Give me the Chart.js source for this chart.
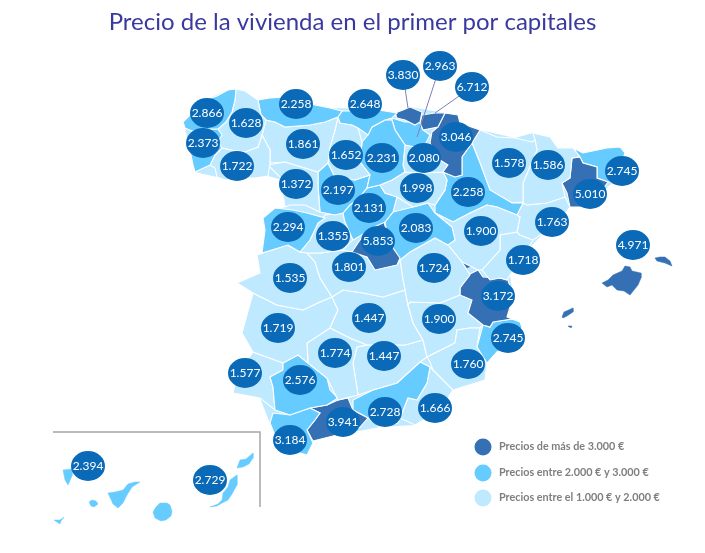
<!DOCTYPE html>
<html lang="es">
<head>
<meta charset="utf-8">
<title>Precio de la vivienda</title>
<script src="https://cdn.jsdelivr.net/npm/chart.js@4"></script>
<style>
  html, body { margin: 0; background: #fff; }
  canvas { display: block; }
</style>
</head>
<body>
<canvas id="mapa" width="705" height="553"></canvas>
<script>
// Precio por capital, en euros
const capitales = ['A Coruña','Lugo','Pontevedra','Ourense','Asturias','Cantabria','León','Palencia','Burgos','Bizkaia','Álava','Gipuzkoa','Navarra','La Rioja','Soria','Zamora','Valladolid','Segovia','Salamanca','Ávila','Madrid','Guadalajara','Toledo','Cuenca','Teruel','Zaragoza','Huesca','Lleida','Barcelona','Girona','Tarragona','Castellón','Valencia','Alicante','Murcia','Albacete','Ciudad Real','Cáceres','Badajoz','Córdoba','Jaén','Sevilla','Huelva','Cádiz','Málaga','Granada','Almería','Baleares','Tenerife','Las Palmas'];
const precios = [2866,1628,2373,1722,2258,2648,1861,1652,2231,3830,2963,6712,3046,2080,1998,1372,2197,2131,2294,1355,5853,2083,1801,1724,1900,2258,1578,1586,5010,2745,1763,1718,3172,2745,1760,1900,1447,1535,1719,1774,1447,2576,1577,3184,3941,2728,1666,4971,2394,2729];
// Posición de cada burbuja sobre el mapa
const mapaX = [207,246,203,237,296,365,303,346,382,403,440,472,456,424,417,296,338,369,288,333,378,416,349,434,481,468,509,548,590,622,552,523,498,508,468,439,369,290,278,335,384,300,245,290,343,385,435,633,88,210];
const mapaY = [113,123,143,166,104,104,144,155,158,75,66,87,137,158,188,184,190,208,227,236,241,228,267,268,231,192,163,165,194,171,222,260,296,338,364,319,318,278,328,353,356,380,373,440,422,412,408,245,466,480];

// Tramos de la leyenda
const tramos = ['Precios de más de 3.000 €','Precios entre 2.000 € y 3.000 €','Precios entre el 1.000 € y 2.000 €'];
const coloresTramo = ['#3670b4','#66ccff','#bfe9ff'];
const leyendaY = [447,473,498];

// Qué tramo pinta cada contorno
const tramoAlto = ['Bizkaia','Gipuzkoa','Navarra','Madrid','Barcelona','Valencia','Ademuz','Málaga','Mallorca','Menorca','Ibiza','Formentera'];
const tramoMedio = ['A Coruña','Pontevedra','Asturias','Cantabria','Burgos','Álava','Valladolid','Segovia','Salamanca','Guadalajara','Zaragoza','Girona','Alicante','Sevilla','Cádiz','Granada','Hierro','Gomera','La Palma','Tenerife','Gran Canaria','Fuerteventura','Lanzarote'];

// Contornos de las provincias e islas, en coordenadas del mapa
const contornos = {
  'A Coruña': [[183,122],[190,115],[205,100],[217,96],[228,90],[236,89],[235,100],[232,112],[226,122],[218,129],[205,129],[192,131],[185,128]],
  'Lugo': [[236,89],[245,91],[258,100],[261,115],[266,120],[262,135],[258,147],[245,152],[232,150],[222,148],[218,142],[222,135],[218,129],[226,122],[232,112],[235,100]],
  'Pontevedra': [[192,131],[205,129],[218,129],[228,134],[228,141],[222,148],[215,155],[210,165],[195,172],[193,165],[190,150]],
  'Ourense': [[222,148],[232,150],[245,152],[258,147],[262,135],[270,150],[270,163],[268,176],[255,178],[240,178],[225,180],[217,177],[215,168],[210,165],[215,155]],
  'Asturias': [[258,100],[270,98],[285,97],[300,100],[315,105],[330,108],[342,111],[338,117],[325,122],[310,125],[298,126],[285,127],[275,122],[266,120],[261,115]],
  'Cantabria': [[342,111],[355,111],[370,109],[385,111],[397,113],[392,118],[385,120],[372,127],[368,135],[358,128],[352,125],[340,123],[338,117]],
  'León': [[266,120],[275,122],[285,127],[298,126],[310,125],[325,122],[338,117],[335,130],[330,147],[328,163],[318,172],[305,168],[285,162],[270,163],[270,150],[262,135]],
  'Palencia': [[338,117],[340,123],[352,125],[358,128],[362,142],[360,162],[370,175],[355,180],[335,177],[328,163],[330,147],[335,130]],
  'Burgos': [[368,135],[372,127],[385,120],[392,120],[395,130],[405,145],[403,165],[405,172],[392,180],[380,185],[367,188],[370,175],[360,162],[362,142]],
  'Bizkaia': [[395,113],[403,110],[410,107],[422,112],[420,122],[415,125],[405,120],[397,118]],
  'Gipuzkoa': [[422,115],[435,113],[445,113],[438,127],[423,130],[420,123]],
  'Álava': [[392,118],[405,122],[420,122],[423,130],[430,135],[425,145],[415,147],[405,145],[395,130],[392,120]],
  'Navarra': [[445,113],[458,115],[460,123],[480,130],[472,143],[462,157],[462,175],[455,177],[443,172],[448,165],[440,160],[430,143],[432,132],[438,127]],
  'La Rioja': [[405,145],[415,147],[425,145],[430,143],[440,160],[448,165],[443,172],[423,173],[405,172],[403,165]],
  'Soria': [[405,172],[423,173],[443,172],[447,180],[445,190],[435,205],[428,203],[413,207],[397,197],[385,193],[380,185],[392,180]],
  'Zamora': [[268,165],[285,162],[305,168],[318,172],[318,185],[319,200],[320,212],[305,205],[290,205],[285,207],[283,195],[283,180]],
  'Valladolid': [[318,172],[328,163],[335,177],[355,180],[370,175],[367,188],[357,200],[350,205],[343,213],[335,215],[320,212],[319,200],[318,185]],
  'Segovia': [[367,188],[380,185],[385,193],[397,197],[393,212],[385,222],[372,228],[360,236],[353,240],[345,222],[343,213],[350,205],[357,200]],
  'Salamanca': [[263,218],[275,208],[293,210],[307,213],[325,218],[318,223],[310,240],[300,252],[288,245],[262,253],[265,230]],
  'Ávila': [[325,215],[343,213],[345,222],[353,240],[343,250],[320,253],[307,253],[300,252],[310,240],[318,223]],
  'Madrid': [[383,218],[387,233],[393,248],[400,258],[397,265],[375,270],[367,257],[352,252],[360,240],[367,233],[370,227]],
  'Guadalajara': [[385,222],[393,212],[413,207],[428,203],[435,213],[452,227],[455,240],[448,245],[435,238],[410,252],[400,260],[393,248],[387,233]],
  'Toledo': [[307,253],[320,253],[343,250],[352,252],[367,257],[375,270],[397,265],[400,260],[403,280],[405,290],[383,297],[363,293],[343,290],[332,297],[320,278],[315,262]],
  'Cuenca': [[400,260],[410,252],[435,238],[448,245],[462,262],[470,275],[460,288],[460,295],[440,303],[410,302],[408,305],[405,290],[403,280]],
  'Teruel': [[435,213],[453,222],[470,213],[487,205],[497,207],[517,215],[520,217],[517,232],[500,235],[500,250],[482,270],[478,270],[462,262],[448,245],[455,240],[452,227]],
  'Zaragoza': [[462,157],[472,143],[480,163],[490,190],[512,203],[523,203],[517,215],[497,207],[487,205],[470,213],[453,222],[435,213],[435,205],[445,190],[447,180],[443,172],[455,177],[462,175]],
  'Huesca': [[480,130],[497,137],[515,138],[532,142],[535,140],[537,150],[523,183],[523,202],[512,203],[490,190],[480,163],[472,143]],
  'Lleida': [[533,133],[550,137],[558,148],[573,148],[580,157],[572,158],[570,178],[562,183],[565,197],[547,203],[527,205],[523,203],[523,183],[537,150],[535,140]],
  'Barcelona': [[572,158],[580,157],[583,163],[597,167],[597,178],[608,182],[600,193],[587,207],[570,207],[567,193],[562,183],[570,178]],
  'Girona': [[573,148],[583,153],[607,148],[620,147],[625,153],[620,167],[613,182],[608,182],[597,178],[597,167],[583,163],[580,157]],
  'Tarragona': [[523,203],[527,205],[547,203],[565,197],[570,207],[560,220],[545,232],[533,240],[520,235],[517,232],[520,217],[517,215]],
  'Castellón': [[517,232],[520,235],[533,240],[527,250],[522,260],[510,275],[507,280],[500,278],[490,280],[482,270],[500,250],[500,235]],
  'Valencia': [[468,275],[478,270],[483,277],[500,278],[508,280],[513,297],[507,317],[512,319],[493,322],[490,327],[483,325],[468,313],[472,300],[460,295],[460,288]],
  'Ademuz': [[462,262],[468,261],[473,265],[467,268]],
  'Alicante': [[493,322],[512,319],[520,322],[522,327],[517,340],[497,352],[487,363],[477,347],[483,325],[490,327]],
  'Murcia': [[477,347],[487,363],[485,380],[453,390],[433,370],[430,362],[427,357],[447,347],[455,343],[457,330],[470,328],[480,328]],
  'Albacete': [[410,302],[440,303],[460,295],[472,300],[468,313],[483,325],[480,328],[470,328],[457,330],[455,343],[447,347],[427,357],[423,340],[413,323],[408,305]],
  'Ciudad Real': [[332,297],[343,290],[363,293],[383,297],[405,290],[408,305],[413,323],[423,340],[405,345],[385,345],[367,345],[350,338],[330,328],[338,310]],
  'Cáceres': [[257,255],[287,245],[300,252],[307,253],[315,262],[320,278],[332,297],[320,302],[303,310],[277,305],[253,293],[237,283],[260,273]],
  'Badajoz': [[253,293],[277,305],[303,310],[320,302],[332,297],[338,310],[330,328],[307,343],[308,363],[298,355],[283,363],[253,352],[242,333]],
  'Córdoba': [[307,343],[330,328],[350,338],[367,345],[357,347],[353,363],[358,395],[338,400],[327,378],[308,363]],
  'Jaén': [[353,363],[357,347],[367,345],[385,345],[405,345],[423,340],[427,357],[420,362],[397,383],[373,390],[358,395]],
  'Sevilla': [[283,370],[283,363],[298,355],[308,363],[327,378],[330,390],[338,398],[327,405],[310,408],[290,415],[275,410],[273,387],[270,377]],
  'Huelva': [[253,352],[283,363],[283,370],[270,377],[273,387],[275,410],[260,398],[233,393],[238,373]],
  'Cádiz': [[273,413],[290,415],[310,408],[320,413],[315,420],[307,430],[313,443],[307,455],[297,452],[277,440],[270,423]],
  'Málaga': [[338,400],[348,398],[353,410],[368,418],[360,427],[337,435],[313,441],[307,430],[315,420],[320,413],[310,408],[327,405]],
  'Granada': [[353,400],[373,390],[397,383],[420,362],[430,367],[427,383],[417,400],[408,398],[398,423],[380,427],[368,418],[353,410]],
  'Almería': [[430,367],[453,390],[440,410],[415,425],[400,418],[408,398],[417,400],[427,383]],
  'Mallorca': [[602,283],[608,280],[613,275],[622,271],[625,266],[630,267],[632,271],[641,273],[641,278],[638,285],[630,295],[624,291],[617,290],[612,285],[607,287]],
  'Menorca': [[655,258],[660,257],[665,257],[670,261],[672,266],[665,263],[657,261]],
  'Ibiza': [[562,317],[564,312],[573,308],[573,312],[567,316],[563,318]],
  'Formentera': [[568,326],[572,326],[571,328]],
  'Hierro': [[54,520],[60,520],[64,517],[61,521],[60,524]],
  'Gomera': [[89,502],[92,500],[96,501],[98,504],[94,507],[91,506]],
  'La Palma': [[63,470],[72,469],[72,476],[68,485],[65,480]],
  'Tenerife': [[108,493],[115,492],[123,490],[128,484],[135,482],[140,482],[132,487],[127,495],[123,503],[118,508],[113,504]],
  'Gran Canaria': [[153,512],[156,507],[160,503],[167,503],[170,505],[172,511],[171,516],[166,520],[161,521],[155,518]],
  'Fuerteventura': [[237,475],[237,485],[232,494],[228,500],[222,503],[217,506],[210,507],[218,504],[222,500],[223,493],[228,487],[230,480]],
  'Lanzarote': [[253,453],[253,458],[249,464],[243,467],[237,468],[240,460],[246,459]]
};
const islas = ['Mallorca','Menorca','Ibiza','Formentera','Ademuz','Hierro','Gomera','La Palma','Tenerife','Gran Canaria','Fuerteventura','Lanzarote'];

// Silueta de la península, queda debajo de las provincias
const peninsula = [[183,122],[205,100],[228,90],[245,91],[258,100],[285,97],[330,108],[370,109],[397,113],[410,107],[445,113],[460,123],[480,130],[515,138],[533,133],[558,148],[583,153],[620,147],[625,153],[613,182],[587,207],[570,207],[545,232],[527,250],[510,275],[513,297],[507,317],[522,327],[497,352],[487,363],[485,380],[453,390],[415,425],[380,427],[337,435],[313,441],[307,455],[277,440],[270,423],[260,398],[233,393],[238,373],[253,352],[242,333],[253,293],[237,283],[260,273],[257,255],[262,253],[265,230],[263,218],[285,207],[283,180],[268,176],[240,178],[217,177],[195,172],[190,150],[185,128]];

// Líneas de las burbujas del País Vasco y marco de Canarias
const guias = [
  [[403,75],[408,108]],
  [[440,66],[417,137]],
  [[472,87],[435,113]]
];
const marcoCanarias = [[53,432],[260,432],[260,507]];

const puntos = arr => arr.map(p => ({ x: p[0], y: p[1] }));

// burbuja algo mas ancha que alta, como en el original
function burbuja(w, h, color) {
  const c = document.createElement('canvas');
  c.width = w;
  c.height = h;
  const g = c.getContext('2d');
  g.fillStyle = color;
  g.beginPath();
  g.ellipse(w / 2, h / 2, w / 2, h / 2, 0, 0, Math.PI * 2);
  g.fill();
  return c;
}

const datasets = [];

datasets.push({
  label: 'capitales',
  data: capitales.map((c, i) => ({ x: mapaX[i], y: mapaY[i] })),
  pointStyle: burbuja(34, 30, '#0a6ab8'),
  pointRadius: 15,
  showLine: false,
  clip: false
});

datasets.push({
  label: 'leyenda',
  data: leyendaY.map(y => ({ x: 483, y: y })),
  backgroundColor: coloresTramo,
  pointBackgroundColor: coloresTramo,
  pointBorderWidth: 0,
  pointRadius: 8.5,
  showLine: false
});

guias.forEach(g => datasets.push({
  data: puntos(g),
  showLine: true,
  borderColor: '#7d80b8',
  borderWidth: 1,
  pointRadius: 0
}));

datasets.push({
  data: puntos(marcoCanarias),
  showLine: true,
  borderColor: '#a6a6a6',
  borderWidth: 1.5,
  pointRadius: 0
});

Object.keys(contornos).forEach(nombre => {
  const color = tramoAlto.includes(nombre) ? coloresTramo[0]
    : tramoMedio.includes(nombre) ? coloresTramo[1] : coloresTramo[2];
  const p = contornos[nombre];
  datasets.push({
    label: nombre,
    data: puntos(p.concat([p[0]])),
    showLine: true,
    fill: 'shape',
    backgroundColor: color,
    borderColor: islas.includes(nombre) ? color : '#ffffff',
    borderWidth: islas.includes(nombre) ? 0.5 : 1.1,
    pointRadius: 0
  });
});

datasets.push({
  label: 'peninsula',
  data: puntos(peninsula.concat([peninsula[0]])),
  showLine: true,
  fill: 'shape',
  backgroundColor: coloresTramo[2],
  borderWidth: 0,
  pointRadius: 0
});

// textos dentro de las burbujas y de la leyenda
const rotulos = {
  id: 'rotulos',
  afterDatasetsDraw(chart) {
    const ctx = chart.ctx;
    const xs = chart.scales.x;
    const ys = chart.scales.y;
    ctx.save();
    ctx.textBaseline = 'middle';
    ctx.textAlign = 'center';
    ctx.fillStyle = '#ffffff';
    ctx.font = '12px Lato';
    precios.forEach((v, i) => {
      const txt = String(v).replace(/(\d)(\d{3})$/, '$1.$2');
      ctx.fillText(txt, xs.getPixelForValue(mapaX[i]), ys.getPixelForValue(mapaY[i]));
    });
    ctx.textAlign = 'left';
    ctx.fillStyle = '#7f7f7f';
    ctx.font = 'bold 10.8px Lato';
    tramos.forEach((t, i) => ctx.fillText(t, xs.getPixelForValue(499), ys.getPixelForValue(leyendaY[i])));
    ctx.restore();
  }
};

new Chart(document.getElementById('mapa'), {
  type: 'scatter',
  data: { datasets: datasets },
  plugins: [rotulos],
  options: {
    responsive: false,
    animation: false,
    layout: { padding: 0, autoPadding: false },
    elements: { line: { tension: 0 } },
    plugins: {
      legend: { display: false },
      tooltip: { enabled: false },
      title: {
        display: true,
        text: 'Precio de la vivienda en el primer por capitales',
        color: '#3a3a9e',
        font: { family: 'Lato', size: 24, weight: 'normal', lineHeight: 1.25 },
        padding: { top: 7, bottom: 3 }
      }
    },
    scales: {
      x: { type: 'linear', display: false, min: 0, max: 705 },
      y: { type: 'linear', display: false, min: 40, max: 553, reverse: true }
    }
  }
});
</script>
</body>
</html>
